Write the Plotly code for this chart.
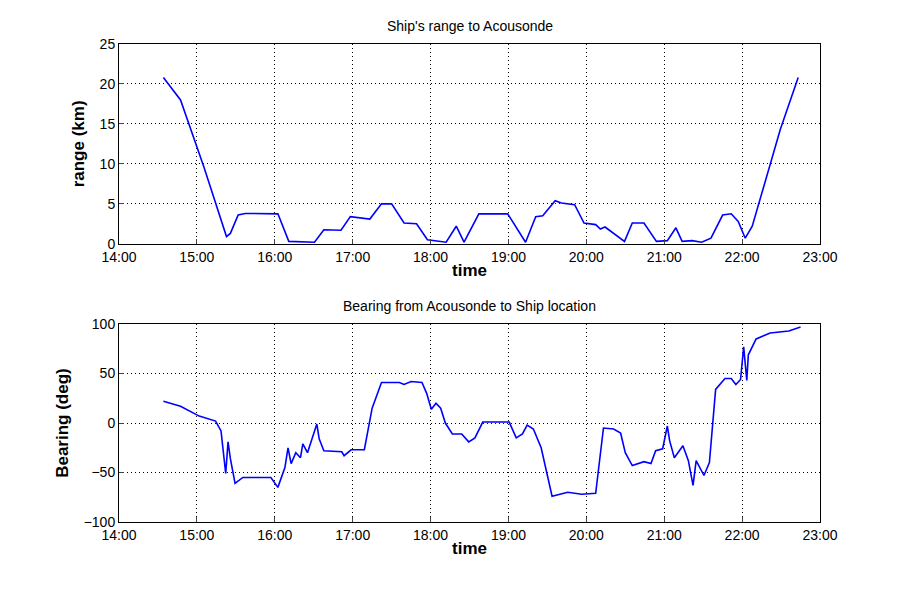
import plotly.graph_objects as go
import pandas as pd

range_h = [14.57,14.79,15.09,15.30,15.38,15.43,15.53,15.62,16.04,16.18,16.51,16.63,16.85,16.97,17.22,17.37,17.50,17.66,17.82,17.96,18.20,18.33,18.43,18.62,18.99,19.22,19.35,19.44,19.60,19.68,19.85,19.97,20.12,20.18,20.24,20.49,20.59,20.74,20.90,21.04,21.15,21.23,21.36,21.48,21.60,21.75,21.86,21.95,22.04,22.13,22.49,22.72]
range_km = [20.8,18.0,9.6,3.4,0.9,1.3,3.6,3.8,3.75,0.3,0.2,1.75,1.7,3.4,3.1,5.0,5.0,2.6,2.5,0.5,0.2,2.2,0.2,3.75,3.75,0.2,3.4,3.5,5.4,5.1,4.9,2.6,2.4,1.85,2.1,0.3,2.6,2.6,0.3,0.4,2.0,0.3,0.4,0.2,0.7,3.6,3.75,2.8,0.7,2.2,14.3,20.8]

bear_h = [14.57,14.79,15.03,15.24,15.31,15.37,15.40,15.43,15.49,15.59,15.95,16.04,16.13,16.17,16.21,16.27,16.33,16.36,16.42,16.50,16.54,16.57,16.63,16.86,16.89,16.98,17.15,17.25,17.37,17.60,17.66,17.75,17.89,17.95,18.01,18.07,18.13,18.19,18.28,18.40,18.49,18.57,18.67,19.01,19.10,19.18,19.24,19.32,19.42,19.56,19.76,19.94,20.12,20.22,20.35,20.44,20.50,20.59,20.74,20.83,20.89,20.98,21.04,21.07,21.13,21.24,21.31,21.37,21.41,21.51,21.58,21.66,21.78,21.86,21.92,21.98,22.02,22.06,22.08,22.18,22.36,22.60,22.75]
bear_deg = [22,17,7,2,-8,-51,-19,-36,-61,-55,-55,-65,-45,-25,-41,-30,-35,-21,-30,-11,-1,-16,-28,-29,-33,-27,-27,15,41,41,39,42,41,30,14,20,15,0,-11,-11,-19,-15,1,1,-15,-11,-2,-6,-25,-74,-70,-72,-71,-5,-6,-10,-30,-43,-39,-41,-28,-26,-3,-18,-35,-23,-38,-63,-38,-53,-40,34,45,45,39,44,77,43,69,85,91,93,97]

x_ticks = ["14:00","15:00","16:00","17:00","18:00","19:00","20:00","21:00","22:00","23:00"]

base = pd.Timestamp("2000-01-01")
def tt(hs):
    return [base + pd.Timedelta(hours=h) for h in hs]
tickvals = [base + pd.Timedelta(hours=14 + i) for i in range(len(x_ticks))]

fig = go.Figure()
fig.add_trace(go.Scatter(x=tt(range_h), y=range_km, mode="lines", line=dict(color="#0000ff", width=1.6), xaxis="x", yaxis="y"))
fig.add_trace(go.Scatter(x=tt(bear_h), y=bear_deg, mode="lines", line=dict(color="#0000ff", width=1.6), xaxis="x2", yaxis="y2"))

ax = dict(showline=True, linecolor="black", linewidth=1, mirror=True, ticks="inside", ticklen=5,
          showgrid=True, gridcolor="black", griddash="1px,3px", gridwidth=1, zeroline=False,
          tickfont=dict(family="Liberation Sans", size=14, color="black"))
xr = [tickvals[0], tickvals[-1]]
tfont = dict(family="Liberation Sans", size=17, color="black")
fig.update_layout(
    width=899, height=589, paper_bgcolor="white", plot_bgcolor="white", showlegend=False,
    margin=dict(l=111, r=87, t=36, b=75),
    xaxis=dict(ax, domain=[0, 1], anchor="y", range=xr, tickvals=tickvals, ticktext=x_ticks,
               title=dict(text="<b>time</b>", font=tfont, standoff=0)),
    yaxis=dict(ax, domain=[0.582, 1], anchor="x", range=[0, 25], tickvals=[0,5,10,15,20,25],
               title=dict(text="<b>range (km)</b>", font=tfont, standoff=10)),
    xaxis2=dict(ax, domain=[0, 1], anchor="y2", range=xr, tickvals=tickvals, ticktext=x_ticks,
                title=dict(text="<b>time</b>", font=tfont, standoff=0)),
    yaxis2=dict(ax, domain=[0, 0.414], anchor="x2", range=[-100, 100], tickvals=[-100,-50,0,50,100],
                title=dict(text="<b>Bearing (deg)</b>", font=tfont, standoff=10)),
    annotations=[
        dict(text="Ship's range to Acousonde", xref="paper", yref="paper", x=0.5, y=1.0, yshift=8, yanchor="bottom",
             showarrow=False, font=dict(family="Liberation Sans", size=14, color="black")),
        dict(text="Bearing from Acousonde to Ship location", xref="paper", yref="paper", x=0.5, y=0.414, yshift=8, yanchor="bottom",
             showarrow=False, font=dict(family="Liberation Sans", size=14, color="black")),
    ],
)
fig.write_html("out.html")
